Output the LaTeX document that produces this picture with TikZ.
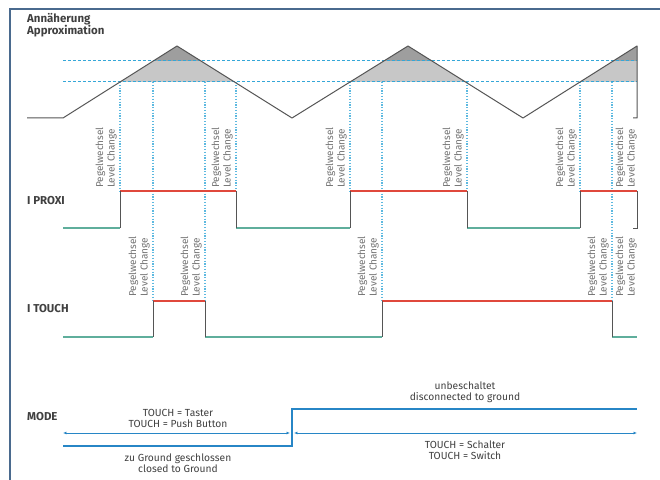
\documentclass[tikz,border=0pt]{standalone}
\usepackage{fontspec}
\setmainfont{Fira Sans}
\usetikzlibrary{positioning,arrows.meta}
\definecolor{myframe}{HTML}{4A6A8E}
\definecolor{mycurve}{HTML}{555555}
\definecolor{mydash}{HTML}{35A7D8}
\definecolor{mylow}{HTML}{5FAE9C}
\definecolor{myhigh}{HTML}{E0483C}
\definecolor{mymode}{HTML}{2786C6}
\colorlet{mytext}{black!75}
\colorlet{mylight}{black!55}

\begin{document}
\begin{tikzpicture}[x=1bp,y=-1bp,
    head/.style={font=\bfseries\fontsize{11.5}{12}\selectfont,text=mytext,anchor=base west,align=left,inner sep=0pt},
    lvl/.style={rotate=90,anchor=south west,align=left,font=\fontsize{10}{11.5}\selectfont,text=mylight,inner sep=0pt},
    note/.style={align=center,font=\fontsize{10.3}{11}\selectfont,text=mytext,inner sep=0pt},
    thr/.style={mydash,line width=1pt,dash pattern=on 3pt off 2pt},
    lcmark/.style={mydash!80,line width=1.3pt,dash pattern=on 1.2pt off 1.6pt},
    siglow/.style={draw=mylow,line width=1.3pt},
    sighigh/.style={draw=myhigh,line width=1.3pt},
    sigedge/.style={draw=mycurve,line width=1pt},
    modeline/.style={draw=mymode,line width=1.2pt}]
    \useasboundingbox (0,0) rectangle (660,480);
    \fill[white] (0,0) rectangle (660,480);
    \draw[myframe,line width=1.2pt] (10,500) -- (10,9) -- (680,9);
    % shaded zones above the thresholds
    \fill[black!22] (120,82) -- (177,46) -- (234.5,82) -- cycle;
    \fill[black!22] (350,82) -- (408,46) -- (465.5,82) -- cycle;
    \fill[black!22] (580,82) -- (637,46) -- (637,82) -- cycle;
    \fill[black!38] (153.3,61) -- (177,46) -- (201,61) -- cycle;
    \fill[black!38] (383.8,61) -- (408,46) -- (432,61) -- cycle;
    \fill[black!38] (613.3,61) -- (637,46) -- (637,61) -- cycle;
    % thresholds
    \draw[thr] (63,61) -- (637,61);
    \draw[thr] (63,82) -- (637,82);
    % level change markers
    \foreach \x in {120,236,350,467,580}
    {\draw[lcmark] (\x,82) -- (\x,191);}
    \foreach \x in {153,205,382,612}
    {\draw[lcmark] (\x,82) -- (\x,301);}
    % approximation curve
    \draw[sigedge,line join=round] (27,118) -- (63,118) -- (177,46) -- (292,118) -- (408,46)
    -- (523,118) -- (637,46) -- (637,118) -- (633,118);
    \node[head] (appr) at (27,34.5) {Annäherung\\Approximation};
    % I PROXI
    \node[head] (proxi) at (27,205) {I PROXI};
    \foreach \p/\q in {63/120,236/350,467/580}
    {\draw[siglow] (\p,228) -- (\q,228);}
    \foreach \p/\q in {120/236,350/467,580/637}
    {\draw[sighigh] (\p,191) -- (\q,191);}
    \foreach \x in {120,236,350,467,580}
    {\draw[sigedge] (\x,191) -- (\x,228);}
    \draw[sigedge] (637,191) -- (637,228) -- (633,228);
    \foreach \x [count=\i] in {120,236,350,467,580,640}
    {\node[lvl] (p\i) at (\x-3,188) {Pegelwechsel\\Level Change};}
    % I TOUCH
    \node[head] (touch) at (27,312) {I TOUCH};
    \foreach \p/\q in {63/153,205/382,612/637}
    {\draw[siglow] (\p,337) -- (\q,337);}
    \foreach \p/\q in {153/205,382/612}
    {\draw[sighigh] (\p,301) -- (\q,301);}
    \foreach \x in {153,205,382,612}
    {\draw[sigedge] (\x,301) -- (\x,337);}
    \foreach \x [count=\i] in {153,205,382,612,640}
    {\node[lvl] (t\i) at (\x-3,297) {Pegelwechsel\\Level Change};}
    % MODE
    \node[head] (mode) at (27,420) {MODE};
    \coordinate (m0) at (63,446);
    \coordinate (m1) at (292,446);
    \coordinate (m2) at (292,409);
    \coordinate (m3) at (637,409);
    \draw[modeline] (m0) -- (m1) -- (m2) -- (m3);
    \coordinate (a0) at (63,433);
    \coordinate (a1) at (290,433);
    \coordinate (a2) at (294,433);
    \coordinate (a3) at (637,433);
    \draw[modeline,line width=1pt,{Latex[length=3.5pt,width=3pt]}-{Latex[length=3.5pt,width=3pt]}] (a0) -- (a1);
    \draw[modeline,line width=1pt,{Latex[length=3.5pt,width=3pt]}-{Latex[length=3.5pt,width=3pt]}] (a2) -- (a3);
    \node[note] (taster) at (178,418) {TOUCH = Taster\\TOUCH = Push Button};
    \node[note] (closed) at (178,463) {zu Ground geschlossen\\closed to Ground};
    \node[note] (open) at (465,392) {unbeschaltet\\disconnected to ground};
    \node[note] (switch) at (465,450) {TOUCH = Schalter\\TOUCH = Switch};
\end{tikzpicture}
\end{document}
